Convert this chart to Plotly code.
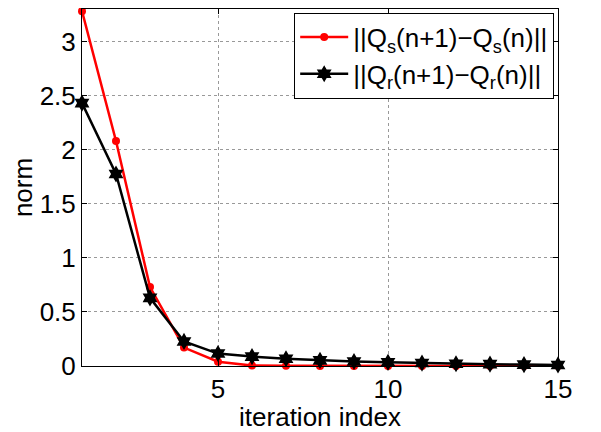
import plotly.graph_objects as go

iterations = list(range(1, 16))
qs_norm = [3.28, 2.08, 0.73, 0.17, 0.04, 0.004, 0.002, 0.001, 0.001, 0.001, 0.0, 0.0, 0.0, 0.0, 0.0]
qr_norm = [2.43, 1.775, 0.63, 0.227, 0.115, 0.087, 0.067, 0.052, 0.042, 0.034, 0.027, 0.021, 0.017, 0.013, 0.01]

x_ticks = [5, 10, 15]
y_ticks = [0, 0.5, 1, 1.5, 2, 2.5, 3]
y_tick_labels = ["0", "0.5", "1", "1.5", "2", "2.5", "3"]

font_family = "Liberation Sans, Arial, sans-serif"

fig = go.Figure()
fig.add_trace(go.Scatter(
    x=iterations, y=qs_norm, mode="lines+markers",
    name="||Q<sub>s</sub>(n+1)−Q<sub>s</sub>(n)||",
    line=dict(color="#ff0000", width=2.5),
    marker=dict(symbol="circle", size=8, color="#ff0000"),
    cliponaxis=False,
))
fig.add_trace(go.Scatter(
    x=iterations, y=qr_norm, mode="lines+markers",
    name="||Q<sub>r</sub>(n+1)−Q<sub>r</sub>(n)||",
    line=dict(color="#000000", width=2.5),
    marker=dict(symbol="hexagram", size=13, color="#000000"),
    cliponaxis=False,
))

# page body has an 8px margin; size the figure so it fits the 601x432 window
fig.update_layout(
    width=593, height=424,
    margin=dict(l=74, r=43, t=1, b=66, autoexpand=False),
    paper_bgcolor="white", plot_bgcolor="white",
    font=dict(family=font_family, size=26, color="black"),
    showlegend=True,
    legend=dict(
        x=0.992, y=0.99, xanchor="right", yanchor="top",
        bgcolor="white", bordercolor="black", borderwidth=1,
        font=dict(size=26), tracegroupgap=0, itemwidth=48,
    ),
    xaxis=dict(
        range=[1, 15], tickvals=x_ticks, ticktext=[str(v) for v in x_ticks],
        showgrid=True, gridcolor="#999999", griddash="dot", gridwidth=1,
        showline=True, linecolor="black", linewidth=1, mirror="ticks",
        ticks="inside", ticklen=5, tickcolor="black",
        zeroline=False, automargin=False,
        title=dict(text="iteration index", standoff=0, font=dict(size=26)),
    ),
    yaxis=dict(
        range=[0, 3.3], tickvals=y_ticks, ticktext=y_tick_labels,
        showgrid=True, gridcolor="#999999", griddash="dot", gridwidth=1,
        showline=True, linecolor="black", linewidth=1, mirror="ticks",
        ticks="inside", ticklen=5, tickcolor="black",
        zeroline=False, automargin=False,
        title=dict(text="norm", standoff=0, font=dict(size=26)),
    ),
)

fig.write_html("out.html")
